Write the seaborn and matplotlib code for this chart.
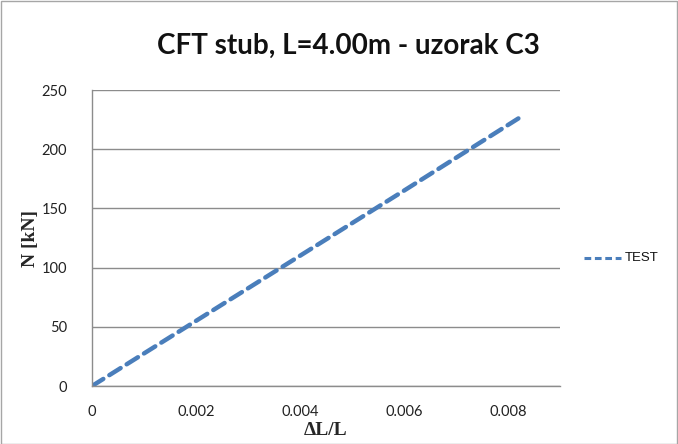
import pandas as pd
import matplotlib
matplotlib.use("Agg")
import matplotlib.pyplot as plt
import seaborn as sns
from matplotlib.patches import Rectangle

# values
strain = [0.0, 0.002, 0.004, 0.006, 0.0082]
force = [0.0, 55.0, 110.0, 165.0, 226.0]
series = ["TEST"] * len(strain)

x_ticks = [0, 0.002, 0.004, 0.006, 0.008]
x_labels = ["0", "0.002", "0.004", "0.006", "0.008"]
y_ticks = [0, 50, 100, 150, 200, 250]

df = pd.DataFrame({"dL/L": strain, "N": force, "series": series})

sns.set_theme(style="white")
plt.rcParams["font.family"] = ["Lato", "DejaVu Sans"]

fig = plt.figure(figsize=(6.78, 4.44), dpi=100)
ax = fig.add_axes([92 / 678, 1 - 386 / 444, (560 - 92) / 678, (386 - 90) / 444])

sns.lineplot(data=df, x="dL/L", y="N", hue="series", palette=["#4A7EBB"],
             linewidth=3.2, ax=ax, sort=False, legend=False)
ax.lines[0].set_dashes([3.0, 1.6])
ax.lines[0].set_dash_capstyle("round")

ax.set_xlim(0, 0.009)
ax.set_ylim(0, 250)
ax.set_xticks(x_ticks)
ax.set_xticklabels(x_labels)
ax.set_yticks(y_ticks)
ax.tick_params(axis="both", length=0, labelsize=10.5, colors="#222222")
ax.tick_params(axis="x", pad=14)
ax.tick_params(axis="y", pad=18)

ax.yaxis.grid(True, color="#8c8c8c", linewidth=1.0)
ax.xaxis.grid(False)
for side in ["top", "right"]:
    ax.spines[side].set_visible(False)
for side in ["left", "bottom"]:
    ax.spines[side].set_color("#8c8c8c")
    ax.spines[side].set_linewidth(1.0)

ax.set_xlabel("ΔL/L", family=["Liberation Serif", "DejaVu Serif"], fontsize=14,
              fontweight="bold", labelpad=2)
ax.set_ylabel("N [kN]", family=["Liberation Serif", "DejaVu Serif"], fontsize=14,
              fontweight="bold", labelpad=2)
ax.set_title("CFT stub, L=4.00m - uzorak C3", fontsize=20, fontweight="bold",
             pad=26, color="#111111")
ax.title.set_x(0.547)  # excel centres the title a bit to the right

# legend drawn like excel, outside on the right
fig.lines.append(plt.Line2D([584 / 678, 621 / 678], [1 - 258 / 444, 1 - 258 / 444],
                            transform=fig.transFigure, color="#4A7EBB", linewidth=2.2,
                            dashes=[2.2, 1.2]))
fig.text(625 / 678, 1 - 258 / 444, "TEST", fontsize=9.5, va="center", ha="left",
         family=["Liberation Sans Narrow", "Liberation Sans"], color="#111111")

# chart border
fig.patches.append(Rectangle((0.5 / 678, 0.5 / 444), 1 - 1.5 / 678, 1 - 1.5 / 444,
                             transform=fig.transFigure, fill=False,
                             edgecolor="#a6a6a6", linewidth=1.0))

fig.savefig("out.png", dpi=100)
